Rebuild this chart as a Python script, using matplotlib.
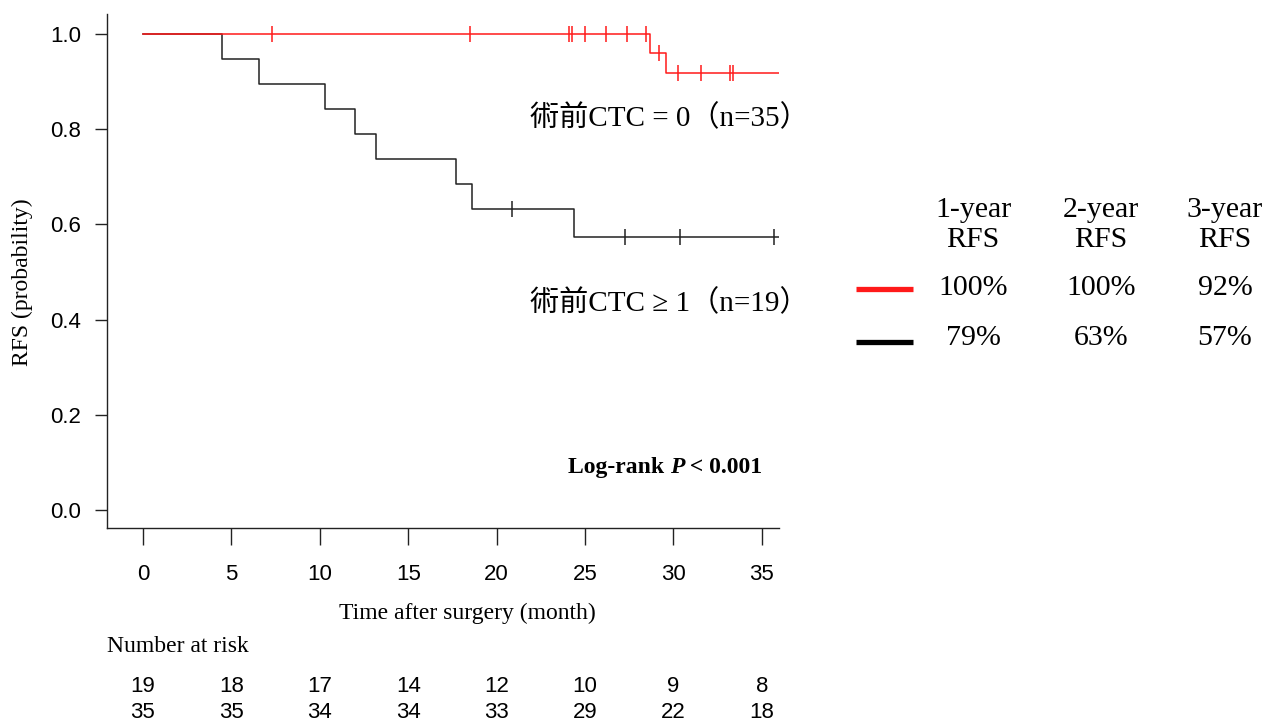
import numpy as np
import matplotlib
matplotlib.use("Agg")
import matplotlib.pyplot as plt
from matplotlib.lines import Line2D

# ── Data ─────────────────────────────────────────────────
# CTC >= 1 group (n=19): step times / survival levels
black_times = [0, 4.47, 6.57, 10.27, 11.97, 13.17, 17.68, 18.58, 24.36, 35.97]
black_surv  = [1.0, 0.947, 0.895, 0.842, 0.789, 0.737, 0.684, 0.632, 0.574, 0.574]
black_cens  = [20.85, 27.28, 30.36, 35.69]

# CTC = 0 group (n=35)
red_times = [0, 28.66, 29.60, 35.95]
red_surv  = [1.0, 0.961, 0.919, 0.919]
red_cens  = [7.29, 18.49, 24.10, 24.27, 24.99, 26.16, 27.38, 28.47,
             29.17, 30.26, 31.58, 33.18, 33.37]

risk_times = [0, 5, 10, 15, 20, 25, 30, 35]
risk_ctc1  = [19, 18, 17, 14, 12, 10, 9, 8]
risk_ctc0  = [35, 35, 34, 34, 33, 29, 22, 18]

table_cols = ["1-year\nRFS", "2-year\nRFS", "3-year\nRFS"]
table_red   = ["100%", "100%", "92%"]
table_black = ["79%", "63%", "57%"]

RED = "#ff1a1a"
BLACK = "#222222"
SERIF = ["Liberation Serif", "Noto Sans CJK JP"]
SANS = "Liberation Sans"

W, H = 1268, 724
fig = plt.figure(figsize=(W / 100, H / 100), dpi=100)


def fx(x):
    return x / W


def fy(y):
    return 1 - y / H


ax = fig.add_axes([fx(107), fy(528), fx(779) - fx(107), fy(14) - fy(528)])
ax.set_xlim(-2.035, 35.97)
ax.set_ylim(-0.0378, 1.042)


def step_val(times, surv, t):
    i = np.searchsorted(times, t, side="right") - 1
    return np.asarray(surv)[i]


# ── KM curves ────────────────────────────────────────────
ax.step(black_times, black_surv, where="post", color=BLACK, lw=1.1)
ax.plot(black_cens, [step_val(black_times, black_surv, t) for t in black_cens],
        ls="none", marker="|", ms=12, mew=1.1, color=BLACK)
ax.step(red_times, red_surv, where="post", color=RED, lw=1.1)
ax.plot(red_cens, [step_val(red_times, red_surv, t) for t in red_cens],
        ls="none", marker="|", ms=12, mew=1.1, color=RED)

# ── Axes styling ─────────────────────────────────────────
for s in ["top", "right"]:
    ax.spines[s].set_visible(False)
for s in ["left", "bottom"]:
    ax.spines[s].set_linewidth(1.0)
    ax.spines[s].set_color("#222222")

ax.set_xticks(risk_times)
ax.set_yticks([0, 0.2, 0.4, 0.6, 0.8, 1.0])
ax.set_yticklabels(["0.0", "0.2", "0.4", "0.6", "0.8", "1.0"])
ax.tick_params(axis="x", direction="out", length=12, width=1.0, pad=14,
               labelsize=16, colors="#222222")
ax.tick_params(axis="y", direction="out", length=8.6, width=1.0, pad=10,
               labelsize=16, colors="#222222")
for lab in ax.get_xticklabels() + ax.get_yticklabels():
    lab.set_family(SANS)
    lab.set_color("black")

fig.text(fx(22), fy(282), "RFS (probability)", rotation=90, ha="center",
         va="center", family=SERIF, fontsize=17)
fig.text(fx(467), fy(613), "Time after surgery (month)", ha="center",
         va="center", family=SERIF, fontsize=17)

# ── Group labels ─────────────────────────────────────────
ax.text(21.88, 0.8235, "術前CTC = 0（n=35）", ha="left", va="center",
        family=SERIF, fontsize=21)
ax.text(21.88, 0.435, "術前CTC ≥ 1（n=19）", ha="left", va="center",
        family=SERIF, fontsize=21)

# Log-rank P < 0.001 (P in bold italic)
t1 = fig.text(fx(568), fy(467), "Log-rank ", ha="left", va="center",
              family="Liberation Serif", fontsize=17, fontweight="bold")
a2 = ax.annotate("P", xy=(1, 0), xycoords=t1, ha="left", va="bottom",
                 family="Liberation Serif", fontsize=17, fontweight="bold",
                 fontstyle="italic", annotation_clip=False)
ax.annotate(" < 0.001", xy=(1, 0), xycoords=a2, ha="left", va="bottom",
            family="Liberation Serif", fontsize=17, fontweight="bold",
            annotation_clip=False)

# ── Number at risk ───────────────────────────────────────
fig.text(fx(107), fy(647), "Number at risk", ha="left", va="center",
         family=SERIF, fontsize=17)
trans = matplotlib.transforms.blended_transform_factory(ax.transData,
                                                        fig.transFigure)
for t, n1, n0 in zip(risk_times, risk_ctc1, risk_ctc0):
    ax.text(t, fy(687), str(n1), transform=trans, ha="center", va="center",
            family=SANS, fontsize=16, clip_on=False)
    ax.text(t, fy(712), str(n0), transform=trans, ha="center", va="center",
            family=SANS, fontsize=16, clip_on=False)

# ── RFS table on the right ───────────────────────────────
col_x = [973, 1101, 1225]
for cx, head, vr, vb in zip(col_x, table_cols, table_red, table_black):
    fig.text(fx(cx), fy(225), head, ha="center", va="center",
             family=SERIF, fontsize=21.5, linespacing=1.2)
    fig.text(fx(cx), fy(288), vr, ha="center", va="center",
             family=SERIF, fontsize=21.5)
    fig.text(fx(cx), fy(338), vb, ha="center", va="center",
             family=SERIF, fontsize=21.5)

fig.add_artist(Line2D([fx(856), fx(913)], [fy(289), fy(289)], color=RED,
                      lw=3.8, solid_capstyle="butt"))
fig.add_artist(Line2D([fx(856), fx(913)], [fy(342), fy(342)], color="black",
                      lw=3.8, solid_capstyle="butt"))

fig.savefig("out.png", dpi=100)
